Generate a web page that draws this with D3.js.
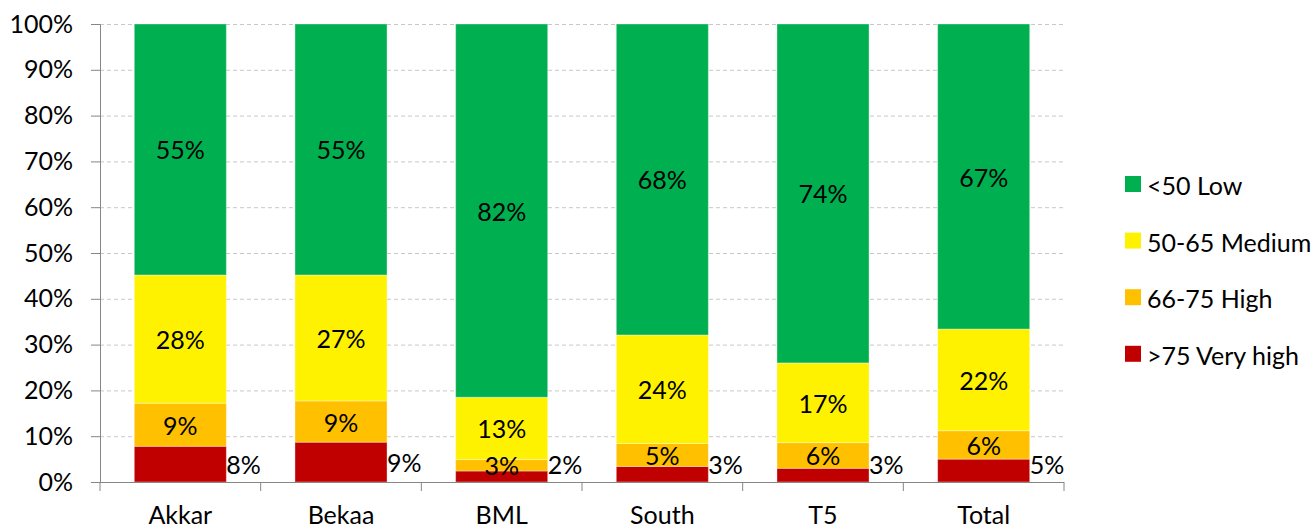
<!DOCTYPE html>
<html><head><meta charset="utf-8">
<script src="https://cdn.jsdelivr.net/npm/d3@7"></script>
<style>
html,body{margin:0;padding:0;background:#fff;}
svg{display:block;}
text{font-family:Lato,'Liberation Sans',sans-serif;fill:#000;}
</style></head>
<body>
<svg id="chart" width="1314" height="529"></svg>
<script>
const categories = ["Akkar","Bekaa","BML","South","T5","Total"];
const seriesNames = [">75 Very high","66-75 High","50-65 Medium","<50 Low"];
const veryHigh = [7.8, 8.7, 2.4, 3.4, 3.0, 5.0];
const high     = [9.4, 9.0, 2.5, 5.0, 5.6, 6.2];
const medium   = [28.0, 27.5, 13.6, 23.7, 17.4, 22.2];
const low      = [54.8, 54.8, 81.5, 67.9, 74.0, 66.6];
const labelsVeryHigh = ["8%","9%","2%","3%","3%","5%"];
const labelsHigh     = ["9%","9%","3%","5%","6%","6%"];
const labelsMedium   = ["28%","27%","13%","24%","17%","22%"];
const labelsLow      = ["55%","55%","82%","68%","74%","67%"];
const yTicks = [0,10,20,30,40,50,60,70,80,90,100];
const colors = ["#C00000","#FFC000","#FFF200","#00B050"];

const series = [veryHigh, high, medium, low];
const labels = [labelsVeryHigh, labelsHigh, labelsMedium, labelsLow];

const svg = d3.select("#chart");
const x = d3.scaleBand().domain(categories).range([100,1064]).padding(0);
const y = d3.scaleLinear().domain([0,100]).range([482,24]);
const step = x.step();
const bw = step*0.573;
const fs = 25;

// gridlines
svg.append("g").selectAll("line").data(yTicks.filter(d=>d>0)).join("line")
  .attr("x1",100).attr("x2",1064)
  .attr("y1",d=>y(d)+0.5).attr("y2",d=>y(d)+0.5)
  .attr("stroke","#c8c8c8").attr("stroke-width",1).attr("stroke-dasharray","4,3");

// stack
const rows = categories.map((c,i)=>{const o={cat:c}; seriesNames.forEach((s,j)=>o[s]=series[j][i]); return o;});
const stack = d3.stack().keys(seriesNames)(rows);

const g = svg.append("g");
stack.forEach((layer,j)=>{
  g.append("g").selectAll("rect").data(layer).join("rect")
    .attr("x",d=>x(d.data.cat)+(step-bw)/2)
    .attr("width",bw)
    .attr("y",d=>y(d[1]))
    .attr("height",d=>y(d[0])-y(d[1]))
    .attr("fill",colors[j])
    .attr("stroke","#ffffff").attr("stroke-opacity",0.35).attr("stroke-width",1);
});

// labels
stack.forEach((layer,j)=>{
  g.append("g").selectAll("text").data(layer).join("text")
    .attr("x",(d,i)=> j===0 ? x(d.data.cat)+(step-bw)/2+bw : x(d.data.cat)+step/2)
    .attr("y",d=> j===0 ? Math.min((y(d[0])+y(d[1]))/2, y(3.9)) : (y(d[0])+y(d[1]))/2)
    .attr("text-anchor", j===0 ? "start" : "middle")
    .attr("dominant-baseline","central")
    .style("font-size",fs+"px")
    .text((d,i)=>labels[j][i]);
});

// y axis
const yAxis = d3.axisLeft(y).tickValues(yTicks).tickFormat(d=>d+"%").tickSize(9).tickPadding(18);
const ya = svg.append("g").attr("transform","translate(100,0)").call(yAxis);
ya.select(".domain").attr("stroke","#868686");
ya.selectAll(".tick line").attr("stroke","#868686");
ya.selectAll("text").style("font-size",fs+"px").attr("font-family",null);

// x axis
const xa = svg.append("g").attr("transform","translate(0,482)");
xa.append("line").attr("x1",100).attr("x2",1064).attr("y1",0.5).attr("y2",0.5).attr("stroke","#868686");
const bounds = categories.map(c=>x(c)).concat([x(categories[categories.length-1])+step]);
xa.selectAll("line.t").data(bounds).join("line").attr("class","t")
  .attr("x1",d=>d).attr("x2",d=>d).attr("y1",0).attr("y2",9).attr("stroke","#868686");
xa.selectAll("text").data(categories).join("text")
  .attr("x",d=>x(d)+step/2).attr("y",42)
  .attr("text-anchor","middle").style("font-size",fs+"px").text(d=>d);

// legend
const legendOrder = [3,2,1,0];
const lg = svg.append("g").attr("transform","translate(1125,176)");
legendOrder.forEach((j,k)=>{
  const r = lg.append("g").attr("transform",`translate(0,${k*56.6})`);
  r.append("rect").attr("width",16).attr("height",16).attr("fill",colors[j]);
  r.append("text").attr("x",22).attr("y",9).attr("dominant-baseline","central")
    .style("font-size",fs+"px").text(seriesNames[j]);
});
</script>
</body></html>
